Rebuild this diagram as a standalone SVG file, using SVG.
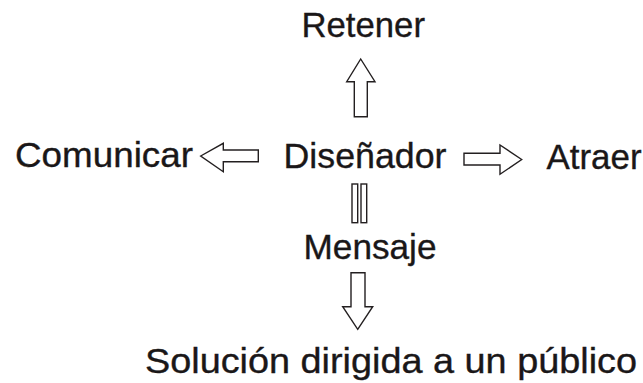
<svg xmlns="http://www.w3.org/2000/svg" width="643" height="383" viewBox="0 0 643 383">
<style>
.t{font-family:"Liberation Sans",Arial,sans-serif;font-size:35px;fill:#1a1718;stroke:#1a1718;stroke-width:0.35}
.a{fill:#fff;stroke:#231f20;stroke-width:1.4;stroke-linejoin:miter}
</style>
<rect width="643" height="383" fill="#fff"/>
<g id="retener"><text class="t" x="301.5" y="36.5" textLength="123.5" lengthAdjust="spacingAndGlyphs">Retener</text></g>
<g id="comunicar"><text class="t" x="15" y="167" textLength="178" lengthAdjust="spacingAndGlyphs">Comunicar</text></g>
<g id="disenador"><text class="t" x="283.5" y="168" textLength="163" lengthAdjust="spacingAndGlyphs">Diseñador</text></g>
<g id="atraer"><text class="t" x="546.5" y="168.5" textLength="95" lengthAdjust="spacingAndGlyphs">Atraer</text></g>
<g id="mensaje"><text class="t" x="303.5" y="258.5" textLength="133" lengthAdjust="spacingAndGlyphs">Mensaje</text></g>
<g id="solucion"><text class="t" x="145" y="372.5" textLength="492" lengthAdjust="spacingAndGlyphs">Solución dirigida a un público</text></g>
<g id="connectors">
<polygon class="a" points="360.7,59 375,81.7 367.3,81.7 367.3,116.7 354.3,116.7 354.3,81.7 346.7,81.7"/>
<polygon class="a" points="200.7,156 223.3,143.3 223.3,150 258.3,150 258.3,161.7 223.3,161.7 223.3,171.7"/>
<polygon class="a" points="521.7,159.5 500,145 500,153.3 464,153.3 464,165 500,165 500,174.3"/>
<rect class="a" x="352" y="184" width="5.7" height="38.7"/>
<rect class="a" x="361" y="184" width="5.7" height="38.7"/>
<polygon class="a" points="357.7,329.3 372.7,306.7 365,306.7 365,272.7 351,272.7 351,306.7 342.7,306.7"/>
</g>
</svg>
